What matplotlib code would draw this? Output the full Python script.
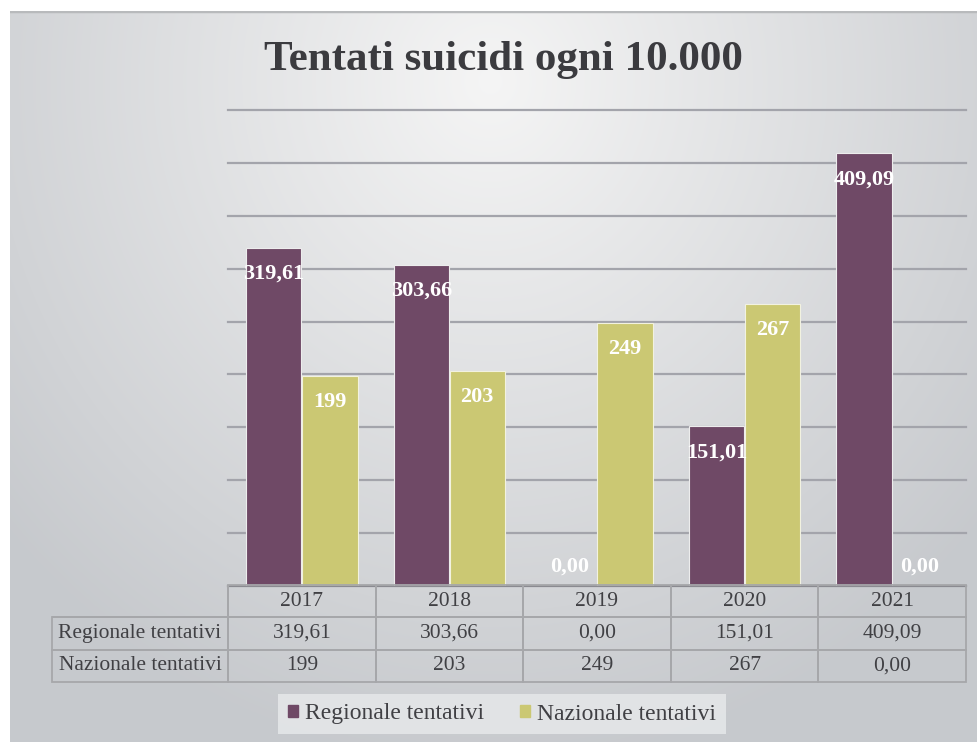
import numpy as np
import matplotlib
matplotlib.use("Agg")
import matplotlib.pyplot as plt
from matplotlib.patches import Patch

# data
anni = ["2017", "2018", "2019", "2020", "2021"]
regionale = [319.61, 303.66, 0.00, 151.01, 409.09]
nazionale = [199, 203, 249, 267, 0.00]
regionale_txt = ["319,61", "303,66", "0,00", "151,01", "409,09"]
nazionale_txt = ["199", "203", "249", "267", "0,00"]
serie = ["Regionale tentativi", "Nazionale tentativi"]

col_reg = "#6F4966"
col_naz = "#CBC873"
serif = "Liberation Serif"

W, H = 978, 742
fig = plt.figure(figsize=(W / 100, H / 100), dpi=100)


def fx(px):
    return px / W


def fy(py):
    return 1 - py / H


# background gradient panel
bg = fig.add_axes([fx(10), 0, 1 - fx(10), fy(11)])
bg.set_axis_off()
yy, xx = np.mgrid[0:731, 0:968]
d = np.sqrt(((xx - 480) / 640.0) ** 2 + ((yy - 70) / 680.0) ** 2)
d = np.clip(d, 0, 1)
light = np.array([0.96, 0.96, 0.96])
dark = np.array([0.78, 0.79, 0.805])
img = light[None, None, :] * (1 - d[..., None]) + dark[None, None, :] * d[..., None]
bg.imshow(img, aspect="auto", extent=[0, 1, 0, 1], zorder=0)
bg.axhline(1, color="#B8BABC", lw=2.5)

# main axes
ax = fig.add_axes([fx(228), fy(586), fx(966 - 228), (586 - 110) / H])
ax.patch.set_alpha(0)
x = np.arange(len(anni))
w = 0.375
ax.bar(x - w / 2 - 0.003, regionale, w, color=col_reg, edgecolor="#EDEDED", lw=0.8, zorder=3)
ax.bar(x + w / 2 + 0.003, nazionale, w, color=col_naz, edgecolor="#F2F2E0", lw=0.8, zorder=3)
ax.set_xlim(-0.5, len(anni) - 0.5)
ax.set_ylim(0, 450)
ax.set_yticks(np.arange(50, 451, 50))
ax.yaxis.grid(True, color="#A3A4AB", lw=1.6)
for gl in ax.get_ygridlines():
    gl.set_clip_on(False)
ax.set_axisbelow(True)
ax.tick_params(left=False, bottom=False, labelleft=False, labelbottom=False)
for s in ["top", "right", "left"]:
    ax.spines[s].set_visible(False)
ax.spines["bottom"].set_color("#8A8A90")
ax.spines["bottom"].set_linewidth(1.6)

for vals, txts, off in [(regionale, regionale_txt, -w / 2), (nazionale, nazionale_txt, w / 2)]:
    for i, (v, t) in enumerate(zip(vals, txts)):
        dy = -26 if v > 0 else 19
        ax.annotate(t, (x[i] + off, v), xytext=(0, dy), textcoords="offset pixels",
                    ha="center", va="center", color="white", fontsize=16,
                    fontweight="bold", family=serif, zorder=5)

fig.text(fx(503), fy(60), "Tentati suicidi ogni 10.000", ha="center", va="center",
         fontsize=31, fontweight="bold", family=serif, color="#3B3B3F")

# data table
tax = fig.add_axes([fx(52), fy(682), fx(966 - 52), (682 - 585) / H])
tax.set_axis_off()
cells = [[""] + anni,
         [serie[0]] + regionale_txt,
         [serie[1]] + nazionale_txt]
tab = tax.table(cellText=cells, bbox=[0, 0, 1, 1], cellLoc="center")
tab.auto_set_font_size(False)
first = 176 / (966 - 52)
other = (1 - first) / 5
for (r, c), cell in tab.get_celld().items():
    cell.set_width(first if c == 0 else other)
    cell.set_facecolor("none")
    cell.set_edgecolor("#A6A7AA")
    cell.set_linewidth(1.3)
    cell.get_text().set_fontsize(15.5)
    cell.get_text().set_family(serif)
    cell.get_text().set_color("#404044")
    if r == 0 and c == 0:
        cell.visible_edges = "BR"

# legend
handles = [Patch(color=col_reg), Patch(color=col_naz)]
leg = fig.legend(handles, serie, loc="center", bbox_to_anchor=(fx(502), fy(714)), ncol=2,
                 frameon=True, fancybox=False, facecolor="#E4E6E8", edgecolor="none",
                 prop={"family": serif, "size": 17}, handlelength=0.45, handleheight=0.45,
                 handletextpad=0.3, columnspacing=1.5, borderpad=0.4, borderaxespad=0)
leg.get_frame().set_alpha(0.9)
for t in leg.get_texts():
    t.set_color("#404044")

fig.savefig("out.png", dpi=100)
